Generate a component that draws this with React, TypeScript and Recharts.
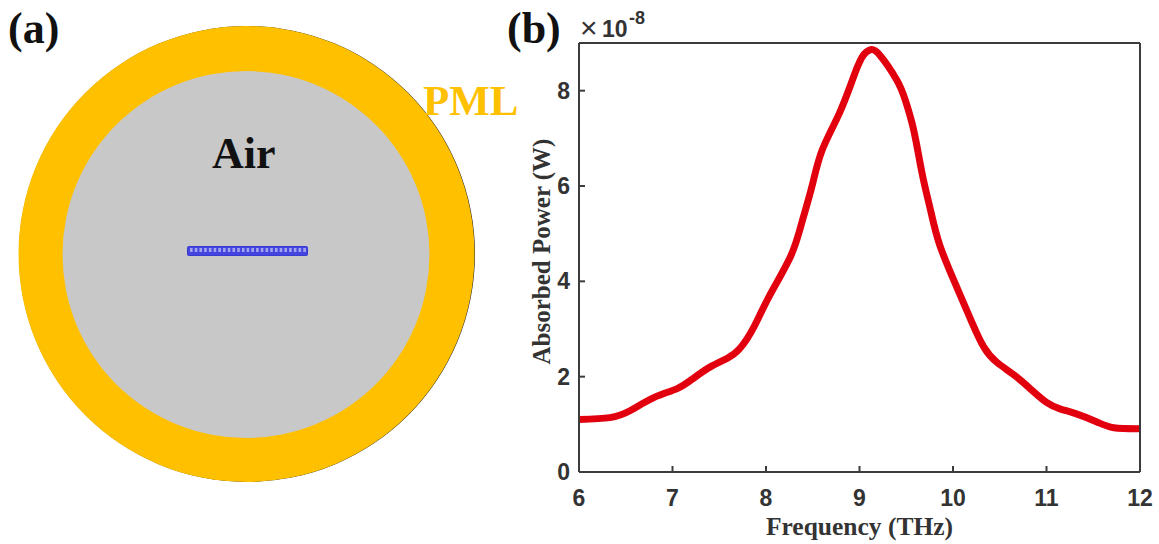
import { LineChart, Line, XAxis, YAxis, Label } from 'recharts';

const frequency = [6, 6.33, 6.55, 6.8, 7.05, 7.22, 7.4, 7.58, 7.72, 7.87, 8.03, 8.26, 8.38, 8.49, 8.6, 8.79, 8.95, 9.04, 9.12, 9.22, 9.4, 9.49, 9.58, 9.67, 9.76, 9.86, 10.04, 10.2, 10.33, 10.47, 10.65, 10.83, 11, 11.15, 11.32, 11.54, 11.72, 12];
const absorbed = [1.1, 1.14, 1.29, 1.56, 1.75, 1.96, 2.2, 2.38, 2.59, 3.04, 3.67, 4.51, 5.21, 5.98, 6.75, 7.55, 8.36, 8.74, 8.86, 8.74, 8.22, 7.8, 7.17, 6.26, 5.49, 4.75, 3.88, 3.15, 2.62, 2.3, 2.04, 1.74, 1.46, 1.32, 1.22, 1.05, 0.93, 0.91];
const xTicks = [6, 7, 8, 9, 10, 11, 12];
const yTicks = [0, 2, 4, 6, 8];
const barCells = Array.from({ length: 25 }, (_, i) => i);

const data = frequency.map((f, i) => ({ f, p: absorbed[i] }));

const sans = '"Liberation Sans", Arial, sans-serif';
const serif = '"Liberation Serif", "Times New Roman", serif';
const axisColor = '#3c3c3c';
const tickStyle = { fontFamily: sans, fontWeight: 700, fontSize: 23, fill: '#333' };

function Schematic() {
  return (
    <svg width={1159} height={544} style={{ position: 'absolute', left: 0, top: 0 }}>
      <circle cx={247} cy={254} r={228} fill="#222" />
      <circle cx={246.5} cy={254} r={228} fill="#ffc000" />
      <circle cx={246} cy={254.5} r={183.5} fill="#c8c8c8" />
      <rect x={187.5} y={246.5} width={120} height={9} rx={1} fill="#4444e0" stroke="#3a3ad0" />
      {barCells.map((i) => (
        <rect key={i} x={190 + i * 4.72} y={248} width={2.6} height={4} fill="#a4a4ee" />
      ))}
      <text x={8} y={43} fontFamily={serif} fontWeight={700} fontSize={44} fill="#111">(a)</text>
      <text x={507} y={43} fontFamily={serif} fontWeight={700} fontSize={44} fill="#111">(b)</text>
      <text x={212} y={168} fontFamily={serif} fontWeight={700} fontSize={44} fill="#111">Air</text>
      <text x={423} y={115} fontFamily={serif} fontWeight={700} fontSize={43} fill="#ffc000">PML</text>
      <text x={580} y={38} fontFamily={sans} fontSize={30} fill="#333">×</text>
      <text x={602} y={37} fontFamily={sans} fontWeight={700} fontSize={23} fill="#333">10</text>
      <text x={629} y={24} fontFamily={sans} fontWeight={700} fontSize={18} fill="#333">-8</text>
    </svg>
  );
}

export default function App() {
  return (
    <div style={{ position: 'absolute', left: 0, top: 0, width: 1159, height: 544, background: '#fff', overflow: 'hidden' }}>
      <Schematic />
      <LineChart
        width={1159}
        height={544}
        data={data}
        margin={{ left: 578, top: 42, right: 18, bottom: 71 }}
        style={{ position: 'absolute', left: 0, top: 0 }}
      >
        <XAxis
          xAxisId="b"
          dataKey="f"
          type="number"
          domain={[6, 12]}
          ticks={xTicks}
          height={1}
          interval={0}
          tickSize={-6}
          tickMargin={24}
          tick={tickStyle}
          stroke={axisColor}
          strokeWidth={2}
        >
          <Label
            value="Frequency (THz)"
            position="bottom"
            offset={44}
            style={{ fontFamily: serif, fontWeight: 700, fontSize: 25.5, fill: '#333' }}
          />
        </XAxis>
        <XAxis
          xAxisId="t"
          orientation="top"
          dataKey="f"
          type="number"
          domain={[6, 12]}
          ticks={xTicks}
          height={1}
          interval={0}
          tickSize={-6}
          tick={false}
          stroke={axisColor}
          strokeWidth={2}
        />
        <YAxis
          yAxisId="l"
          domain={[0, 9]}
          ticks={yTicks}
          width={1}
          interval={0}
          tickSize={-6}
          tickMargin={15}
          tick={tickStyle}
          stroke={axisColor}
          strokeWidth={2}
        >
          <Label
            value="Absorbed Power (W)"
            angle={-90}
            position="left"
            offset={37}
            dy={-6}
            style={{ textAnchor: 'middle', fontFamily: serif, fontWeight: 700, fontSize: 25, fill: '#333' }}
          />
        </YAxis>
        <YAxis
          yAxisId="r"
          orientation="right"
          domain={[0, 9]}
          ticks={yTicks}
          width={1}
          interval={0}
          tickSize={-6}
          tick={false}
          stroke={axisColor}
          strokeWidth={2}
        />
        <Line
          xAxisId="b"
          yAxisId="l"
          dataKey="p"
          type="natural"
          stroke="#e2000f"
          strokeWidth={7}
          dot={false}
          isAnimationActive={false}
        />
      </LineChart>
    </div>
  );
}
